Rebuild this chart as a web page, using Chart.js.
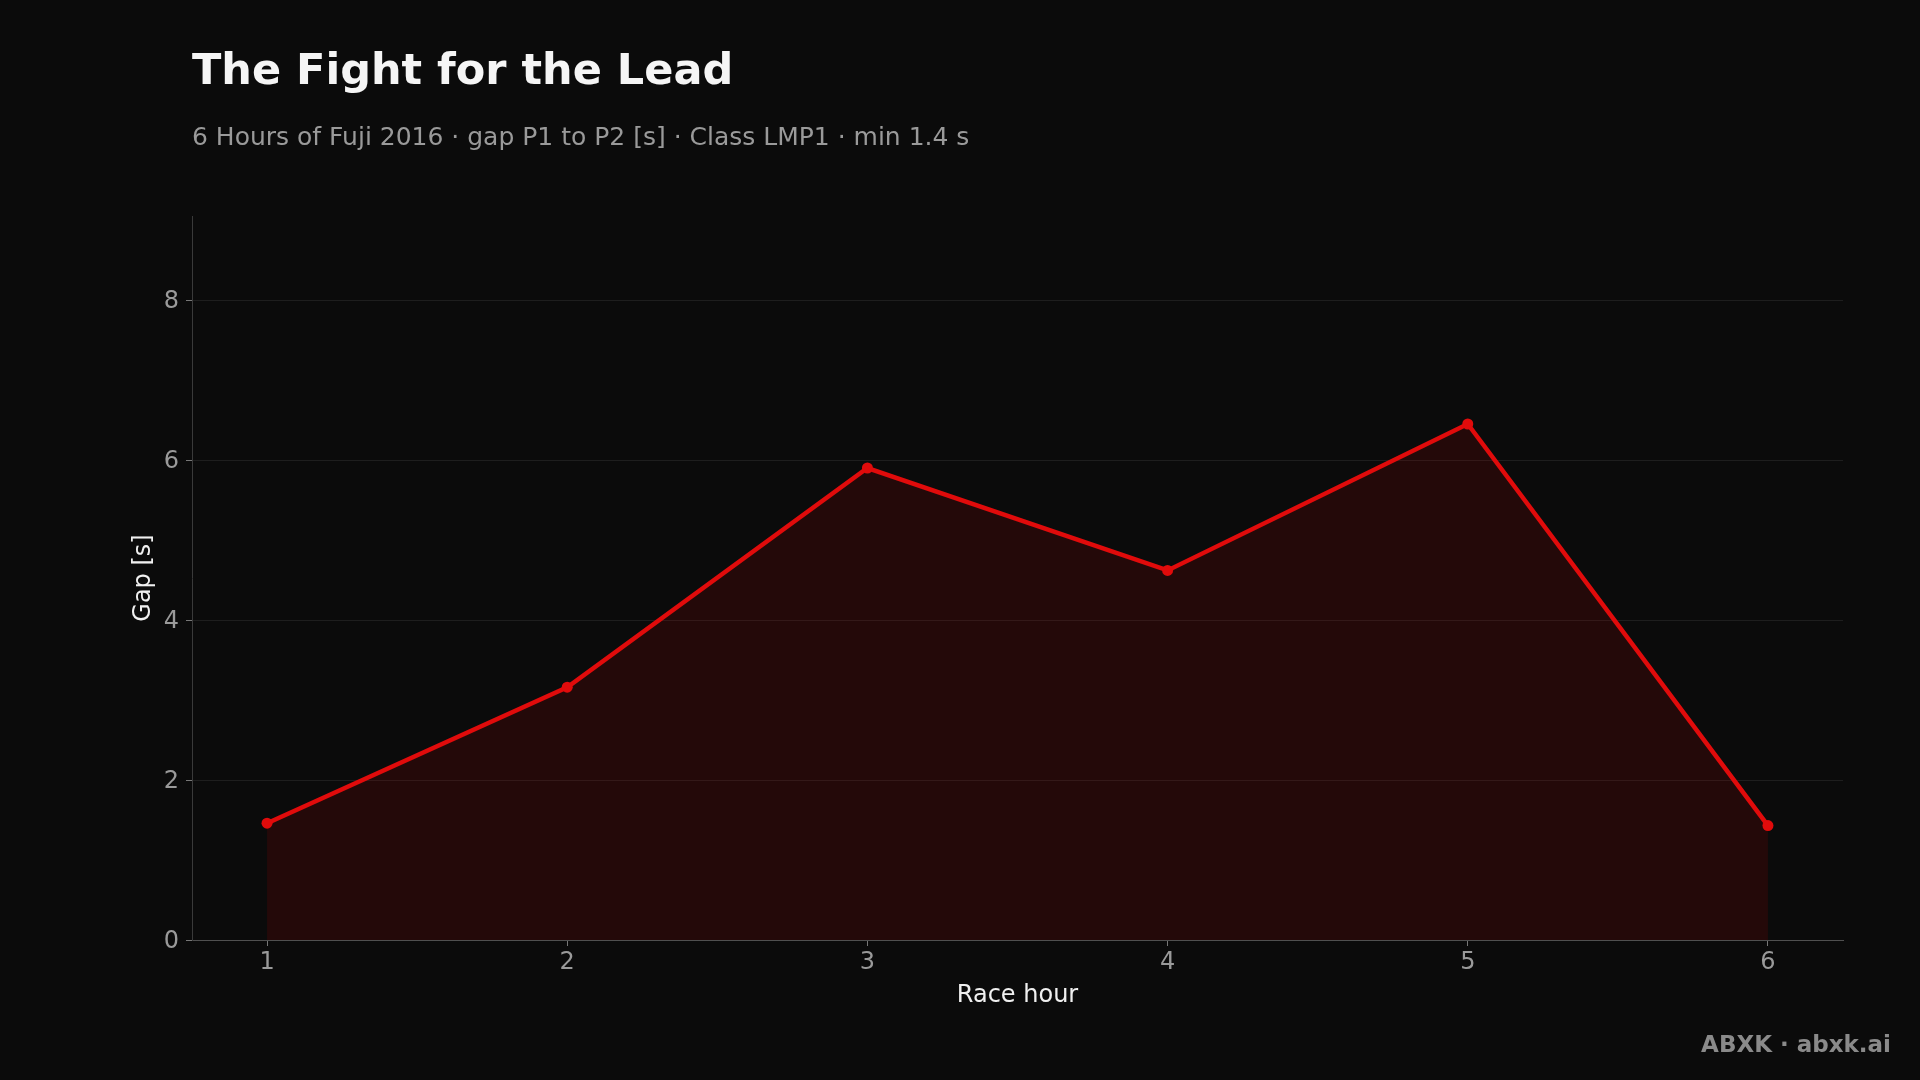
<!DOCTYPE html>
<html>
<head>
<meta charset="utf-8">
<script src="https://cdn.jsdelivr.net/npm/chart.js@4/dist/chart.umd.min.js"></script>
<style>
  html, body { margin: 0; padding: 0; background: #0b0b0b; }
  body { width: 1920px; height: 1080px; position: relative; overflow: hidden; font-family: 'DejaVu Sans', sans-serif; }
  #chart { position: absolute; left: 0; top: 0; width: 1920px; height: 1080px; }
  .title { position: absolute; left: 192px; top: 47px; font-size: 43px; line-height: 44px; font-weight: bold; color: #f5f5f5; white-space: nowrap; }
  .subtitle { position: absolute; left: 192px; top: 124px; font-size: 25px; line-height: 25px; color: #9a9a9a; white-space: nowrap; }
  .footer { position: absolute; right: 29px; top: 1033px; font-size: 23px; line-height: 23px; font-weight: bold; color: #8a8a8a; white-space: nowrap; }
</style>
</head>
<body>
<canvas id="chart" width="1920" height="1080"></canvas>
<div class="title">The Fight for the Lead</div>
<div class="subtitle">6 Hours of Fuji 2016 · gap P1 to P2 [s] · Class LMP1 · min 1.4 s</div>
<div class="footer">ABXK · abxk.ai</div>
<script>
// ---- data -------------------------------------------------------------------

const hours = [1, 2, 3, 4, 5, 6];
const gaps  = [1.46, 3.16, 5.90, 4.62, 6.45, 1.43];

const xTitle = 'Race hour';
const yTitle = 'Gap [s]';

// ---- chart ------------------------------------------------------------------

const RED = '#e00b0b';
const tickFont  = { family: 'DejaVu Sans', size: 24 };
const titleFont = { family: 'DejaVu Sans', size: 24 };

new Chart(document.getElementById('chart'), {
  type: 'line',
  data: {
    datasets: [{
      data: hours.map((h, i) => ({ x: h, y: gaps[i] })),
      borderColor: RED,
      backgroundColor: 'rgba(220,0,0,0.12)',
      fill: 'origin',
      borderWidth: 4.5,
      tension: 0,
      pointRadius: 5.5,
      pointBorderWidth: 0,
      pointBackgroundColor: RED
    }]
  },
  options: {
    responsive: false,
    animation: false,
    devicePixelRatio: 1,
    layout: { padding: { left: 0, top: 216, right: 77, bottom: 40 } },
    plugins: { legend: { display: false }, tooltip: { enabled: false } },
    scales: {
      x: {
        type: 'linear',
        min: 0.75,
        max: 6.25,
        ticks: { stepSize: 1, includeBounds: false, color: '#9a9a9a', font: tickFont, padding: 2 },
        grid: { drawOnChartArea: false, tickLength: 6, tickColor: '#777' },
        border: { color: '#505050' },
        title: { display: true, text: xTitle, color: '#f0f0f0', font: titleFont, padding: { top: 0, bottom: 30 } },
        afterFit: s => { s.height = 100; }
      },
      y: {
        min: 0,
        max: 9.05,
        ticks: { stepSize: 2, includeBounds: false, color: '#9a9a9a', font: tickFont, padding: 7, labelOffset: 2 },
        grid: { color: 'rgba(255,255,255,0.08)', tickLength: 6, tickColor: '#777' },
        border: { color: '#3a3a3a' },
        title: { display: true, text: yTitle, color: '#f0f0f0', font: titleFont, padding: { top: 129, bottom: 0 } },
        afterFit: s => { s.width = 192; }
      }
    }
  }
});
</script>
</body>
</html>
